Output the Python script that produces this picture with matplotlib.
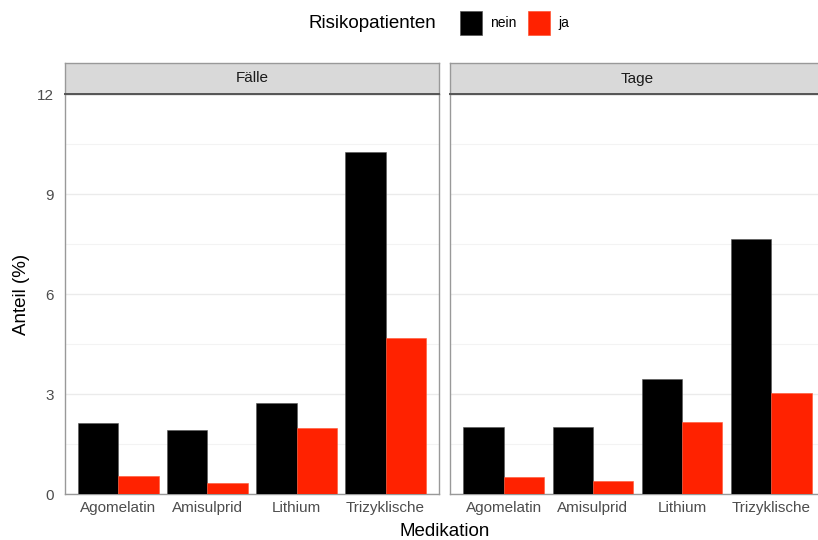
import numpy as np
import matplotlib.pyplot as plt
from matplotlib.patches import Patch

plt.rcParams['font.family'] = ['Liberation Sans', 'DejaVu Sans']

medikation = ['Agomelatin', 'Amisulprid', 'Lithium', 'Trizyklische']
panels = ['Fälle', 'Tage']
# Anteil (%) je Gruppe
faelle_nein = [2.13, 1.93, 2.73, 10.27]
faelle_ja = [0.54, 0.32, 1.98, 4.68]
tage_nein = [2.0, 2.02, 3.46, 7.64]
tage_ja = [0.50, 0.38, 2.17, 3.03]
werte = {'Fälle': (faelle_nein, faelle_ja), 'Tage': (tage_nein, tage_ja)}

schwarz = '#000000'
rot = '#FF2200'

fig = plt.figure(figsize=(8.18, 5.4), dpi=100)
W, H = 818, 540
panel_px = [(65, 439), (450, 825)]
top_px, bot_px = 94, 494
strip_h = 31

x = np.arange(len(medikation))
bw = 0.45
for (l, r), name in zip(panel_px, panels):
    ax = fig.add_axes([l / W, (H - bot_px) / H, (r - l) / W, (bot_px - top_px) / H])
    nein, ja = werte[name]
    ax.bar(x - bw / 2, nein, bw, color=schwarz, edgecolor='#555555', linewidth=0.4, zorder=3)
    ax.bar(x + bw / 2, ja, bw, color=rot, edgecolor='#FF5533', linewidth=0.4, zorder=3)
    ax.set_xlim(-0.6, 3.6)
    ax.set_ylim(0, 12)
    ax.set_yticks([0, 3, 6, 9, 12])
    ax.set_yticks([1.5, 4.5, 7.5, 10.5], minor=True)
    ax.grid(axis='y', which='major', color='#EBEBEB', linewidth=1.0, zorder=0)
    ax.grid(axis='y', which='minor', color='#F3F3F3', linewidth=0.8, zorder=0)
    ax.set_xticks(x)
    ax.set_xticklabels(medikation, fontsize=11, color='#4D4D4D')
    ax.tick_params(which='both', length=0)
    ax.tick_params(axis='x', pad=5)
    ax.tick_params(axis='y', labelsize=11, labelcolor='#4D4D4D', pad=8)
    if name == 'Tage':
        ax.set_yticklabels([])
    for s in ax.spines.values():
        s.set_color('#999999')
        s.set_linewidth(1.0)
    # Streifen mit Facettentitel
    sax = fig.add_axes([l / W, (H - top_px) / H, (r - l) / W, strip_h / H])
    sax.set_xticks([])
    sax.set_yticks([])
    sax.set_facecolor('#D9D9D9')
    for s in sax.spines.values():
        s.set_color('#999999')
        s.set_linewidth(1.0)
    sax.spines['bottom'].set_color('#555555')
    sax.spines['bottom'].set_linewidth(1.4)
    cx = ((l + r) / 2) / W
    fig.text(cx, (H - top_px + strip_h / 2) / H, name, ha='center', va='center',
             fontsize=11, color='#1A1A1A')

fig.text(445 / W, (H - 532) / H, 'Medikation', ha='center', va='center', fontsize=13.5)
fig.text(22 / W, (H - 294) / H, 'Anteil (%)', rotation=90, ha='center', va='center', fontsize=13.5)

fig.text(308 / W, (H - 23) / H, 'Risikopatienten', ha='left', va='center', fontsize=13.5)
handles = [Patch(facecolor=schwarz, edgecolor='#555555', linewidth=0.5),
           Patch(facecolor=rot, edgecolor='#FF5533', linewidth=0.5)]
fig.legend(handles, ['nein', 'ja'], loc='center left', bbox_to_anchor=(450 / W, (H - 23) / H),
           ncol=2, frameon=False, fontsize=10, handlelength=1.6, handleheight=2.2,
           handletextpad=0.6, columnspacing=0.8, borderpad=0.2)

fig.savefig('out.png', dpi=100)
